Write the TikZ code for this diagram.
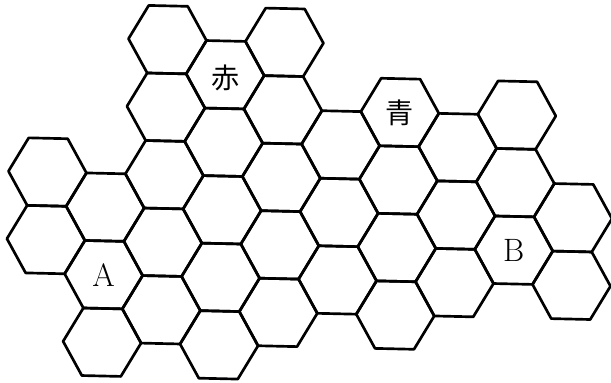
\documentclass[tikz,border=0pt]{standalone}
\usepackage{fontspec}
\newfontfamily\cjkfont{Noto Sans CJK JP}
\usepackage{tikz}

\begin{document}
\begin{tikzpicture}[x=0.025cm, y=0.025cm,
  cell/.style={line width=1.9pt, line join=round},
  kanji/.style={font=\cjkfont\fontsize{20}{20}\selectfont, inner sep=0pt},
  letter/.style={font=\fontsize{23}{23}\selectfont, inner sep=0pt}]
 \clip (0,0) rectangle (611,382);
 \begin{scope}[shift={(50.5,345)}, rotate=-1.3]
  % honeycomb: column / rows present in that column
  \foreach \c/\rows in {0/{2,3}, 1/{2,3,4}, 2/{0,1,2,3,4}, 3/{0,1,2,3,4}, 4/{0,1,2,3,4},
                        5/{1,2,3}, 6/{1,2,3,4}, 7/{1,2,3}, 8/{1,2,3}, 9/{2,3}}{
   \foreach \r in \rows{
     \draw[cell] ({\c*58.5},{-(\r+0.5*mod(\c,2))*67.55}) ++(0:39) -- ++(120:39) -- ++(180:39)
       -- ++(240:39) -- ++(300:39) -- ++(0:39) -- cycle;
   }
  }
  \node[kanji] (aka) at ({3*58.5},{-0.5*67.55-3}) {赤};
  \node[kanji] (ao) at ({6*58.5},{-1*67.55}) {青};
  \node[letter] (ptA) at ({1*58.5},{-3.5*67.55}) {A};
  \node[letter] (ptB) at ({8*58.5},{-3*67.55}) {B};
 \end{scope}
\end{tikzpicture}
\end{document}
